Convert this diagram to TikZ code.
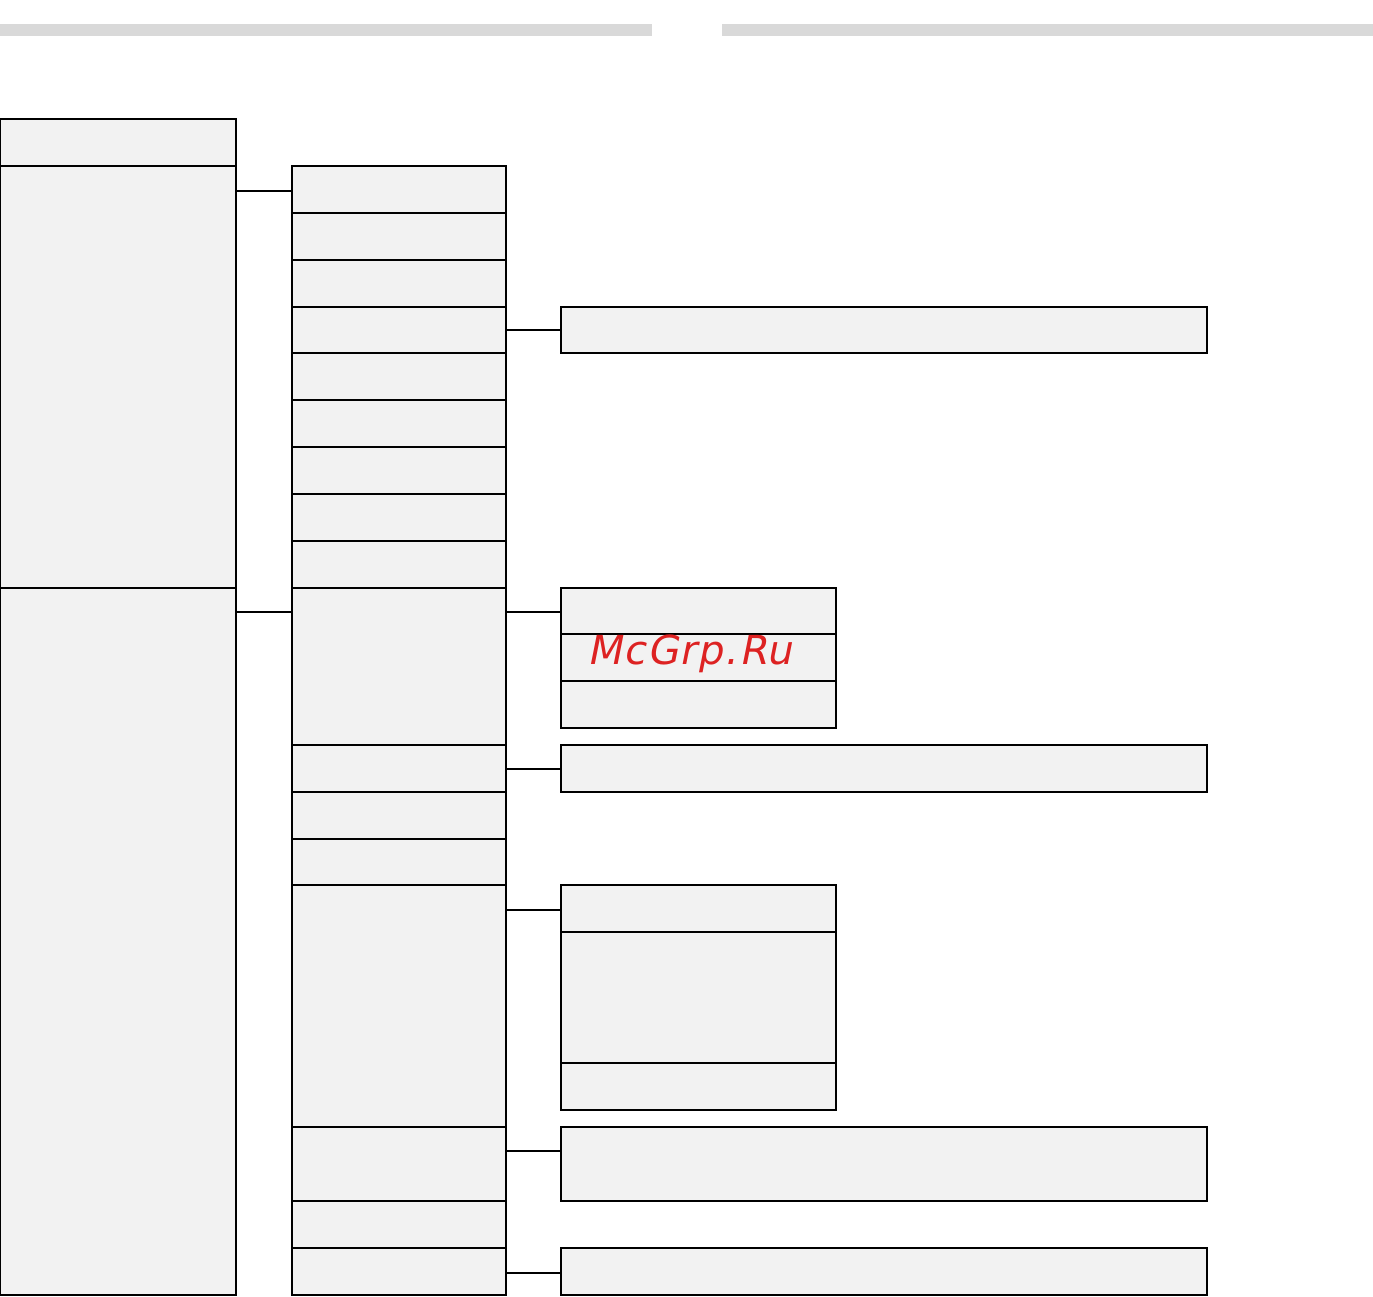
\documentclass[tikz,border=0pt]{standalone}
\usepackage{fontspec}
\newfontfamily\wmfont[LetterSpace=4]{DejaVu Sans}
\usetikzlibrary{calc}
\definecolor{boxfill}{HTML}{F2F2F2}
\definecolor{barfill}{HTML}{D9D9D9}
\definecolor{wmred}{HTML}{DD2222}
\tikzset{
  box/.style={draw=black, fill=boxfill, line width=1.3pt, rectangle, inner sep=0pt, outer sep=0pt, anchor=north west},
  lbox/.style={box, minimum width=236pt},
  mbox/.style={box, minimum width=214pt},
  wbox/.style={box, minimum width=646pt},
  nbox/.style={box, minimum width=275pt},
  bar/.style={fill=barfill, draw=none, rectangle, inner sep=0pt, outer sep=0pt, anchor=north west, minimum height=12pt},
  conn/.style={draw=black, line width=1.3pt}
}
\begin{document}
\begin{tikzpicture}[x=1pt,y=-1pt]
\useasboundingbox (0,0) rectangle (1373,1296);
% header bars
\node[bar, minimum width=652pt] (barL) at (0,24) {};
\node[bar, minimum width=651pt] (barR) at (722,24) {};
% left column
\node[lbox, minimum height=47pt] (l1) at (0,119) {};
\node[lbox, minimum height=422pt] (l2) at (0,166) {};
\node[lbox, minimum height=707pt] (l3) at (0,588) {};
% middle column
\node[mbox, minimum height=47pt] (m1) at (292,166) {};
\node[mbox, minimum height=47pt] (m2) at (292,213) {};
\node[mbox, minimum height=47pt] (m3) at (292,260) {};
\node[mbox, minimum height=46pt] (m4) at (292,307) {};
\node[mbox, minimum height=47pt] (m5) at (292,353) {};
\node[mbox, minimum height=47pt] (m6) at (292,400) {};
\node[mbox, minimum height=47pt] (m7) at (292,447) {};
\node[mbox, minimum height=47pt] (m8) at (292,494) {};
\node[mbox, minimum height=47pt] (m9) at (292,541) {};
\node[mbox, minimum height=157pt] (m10) at (292,588) {};
\node[mbox, minimum height=47pt] (m11) at (292,745) {};
\node[mbox, minimum height=47pt] (m12) at (292,792) {};
\node[mbox, minimum height=46pt] (m13) at (292,839) {};
\node[mbox, minimum height=242pt] (m14) at (292,885) {};
\node[mbox, minimum height=74pt] (m15) at (292,1127) {};
\node[mbox, minimum height=47pt] (m16) at (292,1201) {};
\node[mbox, minimum height=47pt] (m17) at (292,1248) {};
% right column
\node[wbox, minimum height=46pt] (r1) at (561,307) {};
\node[nbox, minimum height=46pt] (r2) at (561,588) {};
\node[nbox, minimum height=47pt] (r3) at (561,634) {};
\node[nbox, minimum height=47pt] (r4) at (561,681) {};
\node[wbox, minimum height=47pt] (r5) at (561,745) {};
\node[nbox, minimum height=47pt] (r6) at (561,885) {};
\node[nbox, minimum height=131pt] (r7) at (561,932) {};
\node[nbox, minimum height=47pt] (r8) at (561,1063) {};
\node[wbox, minimum height=74pt] (r9) at (561,1127) {};
\node[wbox, minimum height=47pt] (r10) at (561,1248) {};
% connector points
\coordinate (c1) at ($(m1.north west)+(0,25)$);
\coordinate (c2) at ($(m10.north west)+(0,24)$);
\coordinate (c3) at ($(r1.north west)+(0,23)$);
\coordinate (c4) at ($(r2.north west)+(0,24)$);
\coordinate (c5) at ($(r5.north west)+(0,24)$);
\coordinate (c6) at ($(r6.north west)+(0,25)$);
\coordinate (c7) at ($(r9.north west)+(0,24)$);
\coordinate (c8) at ($(r10.north west)+(0,25)$);
\draw[conn] (l2.east |- c1) -- (c1);
\draw[conn] (l3.east |- c2) -- (c2);
\draw[conn] (m4.east |- c3) -- (c3);
\draw[conn] (m10.east |- c4) -- (c4);
\draw[conn] (m11.east |- c5) -- (c5);
\draw[conn] (m14.east |- c6) -- (c6);
\draw[conn] (m15.east |- c7) -- (c7);
\draw[conn] (m17.east |- c8) -- (c8);
% watermark
\node[text=wmred, font=\wmfont\fontsize{40}{40}\selectfont, xslant=0.2, inner sep=0pt] (wm) at (692,654) {McGrp.Ru};
\end{tikzpicture}
\end{document}
